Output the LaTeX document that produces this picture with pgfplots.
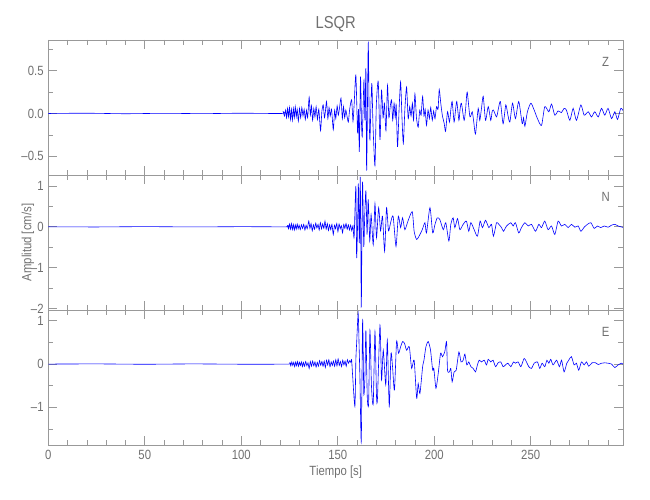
\documentclass[border=0pt]{standalone}
\usepackage{fontspec}
\setmainfont{Liberation Sans}[FakeStretch=0.85]
\usepackage{pgfplots}
\pgfplotsset{compat=1.18}
\definecolor{axisgray}{HTML}{999999}
\definecolor{textgray}{HTML}{707070}

% traces (cm/s)
\pgfplotstableread{
t v
0 0
20 0.003
40 -0.003
60 0.002
80 -0.002
100 0.003
121 0
121.8 0.02
122.4 -0.03
123.0 0.04
123.5 -0.05
124.0 0.06
124.5 -0.04
125.0 0.07
125.5 -0.07
126.0 0.05
126.5 -0.08
127.0 0.06
127.5 -0.05
128.0 0.08
128.5 -0.04
129.0 0.05
129.6 -0.09
130.2 0.06
130.8 -0.05
131.4 0.07
132.0 -0.03
132.6 0.05
133.2 -0.07
133.8 0.04
134.4 -0.05
135.2 0.19
135.8 -0.02
136.4 0.09
137.0 -0.08
137.6 0.06
138.2 -0.04
138.8 0.08
139.5 -0.07
140.2 0.05
141.1 -0.20
141.8 0.03
142.5 0.10
143.1 -0.05
143.6 0.02
144.2 0.14
144.9 -0.06
145.5 0.07
146.1 -0.03
146.8 0.05
147.7 -0.19
148.4 0.04
149.0 -0.06
149.7 0.09
150.3 -0.02
150.9 0.06
151.7 0.18
152.4 -0.06
153.0 0.08
153.6 -0.05
154.2 0.04
154.8 -0.03
155.5 -0.10
156.2 0.05
157.2 0.16
157.9 -0.09
158.5 0.10
159.4 0.45
160.3 -0.23
160.8 0.05
161.2 -0.45
161.8 0.43
162.3 -0.10
162.7 -0.27
163.2 0.10
163.6 0.39
164.1 -0.08
164.6 0.53
165.0 -0.67
165.8 0.82
166.3 -0.05
166.7 -0.31
167.2 0.10
167.7 0.35
168.3 -0.15
169.3 -0.61
170.0 0.10
171.0 0.37
171.9 -0.31
172.7 0.27
173.5 -0.05
174.2 0.12
175.0 -0.20
175.8 0.33
176.5 -0.05
177.2 0.08
177.9 0.16
178.5 -0.08
179.2 0.12
179.8 -0.05
180.3 0.10
181.0 -0.39
181.8 0.05
182.6 0.37
183.3 -0.05
184.0 -0.35
184.8 0.05
185.7 0.31
186.5 -0.06
187.3 0.08
188.0 -0.03
188.7 0.12
189.3 -0.08
190.0 0.23
190.8 -0.05
191.7 -0.16
192.5 0.04
193.2 -0.02
194.0 0.20
194.7 -0.03
195.3 0.05
196.0 -0.14
196.8 0.04
197.5 -0.06
198.2 0.07
199.0 -0.08
199.7 0.03
200.4 -0.06
201.2 0.08
202.0 0.05
202.6 0.28
203.4 0.12
204.2 -0.02
205.2 -0.12
205.9 -0.21
206.9 0.02
207.9 -0.10
208.6 0.04
209.3 0.14
210.3 -0.10
211.0 0.03
211.7 0.14
212.8 -0.08
213.4 0.05
214.1 0.12
215.5 -0.08
216.3 0.06
217.1 0.25
218.5 -0.04
219.7 0.02
220.5 -0.10
221.4 -0.24
222.8 0.06
223.6 -0.08
224.5 0.06
225.4 0.20
226.6 -0.08
228.0 0.08
229.3 -0.08
230.0 0.02
230.7 0.04
232.3 -0.04
233.3 0.06
234.3 0.14
235.7 -0.12
237.1 0.10
238.2 -0.02
239.2 -0.10
240.6 0.12
242.1 -0.06
243.8 0.14
245.6 -0.12
246.3 -0.05
247.0 -0.15
248.3 0.02
250.1 0.12
251.8 0.04
253.5 -0.06
255.6 -0.14
257.3 0.08
259.4 0.02
260.8 0.11
262.5 -0.02
264.2 0.03
265.9 0.01
267.3 0.06
268.5 0.04
270.3 -0.08
272.0 0.06
273.7 -0.08
276.0 0.10
277.7 -0.02
279.8 0.02
281.5 -0.04
283.2 0.02
285.0 -0.04
286.7 0.06
288.4 -0.02
290.1 0.06
291.9 -0.06
293.6 0.02
295.0 -0.07
296.7 0.06
298.2 0.02
}\traceZ

\pgfplotstableread{
t v
0 0
25 -0.004
50 0.004
75 -0.003
100 0.003
123.5 0
124.0 0.03
124.5 -0.05
125.0 0.07
125.5 -0.06
126.0 0.08
126.5 -0.07
127.0 0.06
127.5 -0.08
128.0 0.05
128.5 -0.06
129.0 0.07
129.5 -0.05
130.0 0.04
130.6 -0.07
131.2 0.05
131.8 -0.04
132.4 0.06
133.0 -0.08
133.6 0.04
134.2 -0.05
135.0 0.14
135.6 -0.04
136.2 0.08
136.8 -0.10
137.4 0.05
138.0 -0.06
138.6 0.09
139.2 -0.03
139.8 0.06
140.4 -0.08
141.0 0.10
141.6 -0.05
142.2 0.07
142.8 -0.04
143.4 0.14
144.0 -0.06
144.6 0.08
145.2 -0.09
145.8 0.05
146.4 -0.07
147.0 0.06
147.7 -0.19
148.3 0.04
148.9 -0.05
149.5 0.08
150.1 -0.12
150.7 0.07
151.3 -0.05
151.9 0.03
152.5 -0.15
153.1 0.06
153.7 -0.04
154.3 0.08
154.9 -0.06
155.5 0.05
156.1 -0.08
156.7 0.04
157.3 -0.10
157.9 0.03
158.5 -0.25
159.4 1.00
159.8 -0.77
160.4 0.30
160.7 1.05
161.2 -0.40
161.7 1.21
162.2 -1.96
162.6 0.20
162.9 1.09
163.5 -0.48
164.0 0.30
164.6 0.88
165.2 -0.19
165.8 0.67
166.6 -0.35
167.3 0.30
168.4 -0.44
169.3 0.57
170.1 -0.27
171.2 0.47
172.2 -0.10
173.2 0.26
174.3 -0.60
175.3 0.47
176.3 -0.10
177.4 0.10
178.7 0.26
180.2 -0.48
181.4 0.26
182.6 -0.02
183.6 0.22
184.8 -0.07
186.4 0.14
188.6 0.37
189.6 -0.11
190.9 -0.31
192.6 -0.19
193.8 -0.07
195.2 0.10
196.0 -0.15
197.8 0.47
199.2 -0.15
200.4 0.06
201.6 0.22
202.9 0.18
204.7 -0.07
206.0 0.10
207.6 -0.35
208.6 0.06
209.8 0.22
210.7 -0.02
212.1 0.20
213.3 -0.07
215.0 0.06
216.7 0.14
217.9 -0.11
219.0 0.10
220.7 -0.07
222.4 -0.23
223.8 0.14
225.0 -0.02
226.6 0.16
228.3 -0.02
229.7 0.06
230.7 -0.23
232.3 0.10
233.5 0.06
234.9 -0.02
235.9 -0.11
237.5 0.02
239.7 0.10
240.9 0.02
242.1 0.10
243.8 -0.15
245.2 -0.02
247.0 0.10
248.7 0.02
250.4 0.06
252.5 -0.11
254.2 0.06
255.6 -0.02
257.3 0.14
259.0 -0.07
260.8 0.02
262.5 -0.19
264.2 0.14
265.9 0.02
267.7 0.06
269.4 -0.02
271.1 0.06
272.9 -0.01
274.6 0.02
276.0 -0.11
277.7 -0.01
279.4 0.06
281.2 0.10
282.9 -0.04
284.6 0.02
286.3 -0.02
288.1 0.02
290.1 -0.01
291.9 0.04
293.6 0.06
295.3 0.02
298.2 -0.02
}\traceN

\pgfplotstableread{
t v
0 0
25 0.004
50 -0.004
75 0.004
100 -0.003
124.5 0
125.2 0.03
125.7 -0.04
126.2 0.05
126.7 -0.03
127.2 0.04
127.7 -0.06
128.2 0.05
128.7 -0.04
129.2 0.06
129.7 -0.05
130.2 0.04
130.7 -0.03
131.2 0.05
131.7 -0.06
132.2 0.04
132.8 -0.05
133.4 0.06
134.0 -0.04
134.6 0.03
135.2 -0.10
135.8 0.06
136.4 -0.05
137.0 0.07
137.6 -0.04
138.2 0.05
138.8 -0.07
139.4 0.04
140.0 -0.05
140.6 0.08
141.2 -0.03
141.8 0.06
142.4 -0.05
143.0 0.07
143.6 -0.08
144.2 0.09
144.8 -0.02
145.4 0.10
146.0 -0.06
146.6 0.05
147.2 -0.03
147.8 0.07
148.4 -0.05
149.0 0.10
149.6 -0.04
150.2 0.12
150.8 -0.03
151.4 0.06
152.0 -0.06
152.6 0.09
153.2 -0.02
153.8 0.07
154.4 -0.05
155.0 0.10
155.6 0.02
156.2 0.08
156.8 0.04
157.2 0.10
157.7 -0.25
158.9 -0.98
159.4 0.10
159.8 0.48
160.6 1.17
161.1 0.38
161.5 -0.30
162.2 -1.79
162.9 1.02
163.5 -0.68
164.1 -0.29
164.6 0.78
165.3 -0.75
166.0 -0.91
166.7 0.78
167.5 -0.52
168.4 -0.91
169.3 0.75
170.1 -0.75
170.6 -0.79
171.9 0.90
172.7 -0.37
173.6 0.32
174.9 -0.48
175.7 0.55
176.7 -0.98
177.6 0.25
178.4 -0.06
179.4 -0.60
180.5 0.52
181.5 0.25
182.6 0.40
183.6 0.52
184.6 0.48
185.7 0.32
187.1 0.40
188.3 -0.10
189.6 0.09
190.9 -0.79
191.7 -0.45
192.6 -0.68
194.0 -0.06
194.7 0.09
195.7 0.40
196.9 0.52
198.1 0.32
199.2 -0.14
199.8 -0.10
200.9 -0.56
202.1 -0.21
203.3 0.25
204.3 0.17
205.5 0.29
206.4 0.52
206.9 -0.14
207.9 -0.18
208.6 -0.10
209.3 -0.41
210.3 -0.18
211.4 -0.14
212.8 0.28
213.9 0.05
215.0 0.09
215.9 0.23
216.9 -0.02
217.9 0.05
219.0 -0.06
220.2 -0.10
221.4 -0.18
222.4 -0.02
223.3 0.09
224.5 0.05
225.9 0.09
227.1 -0.02
228.0 0.11
229.3 0.05
230.5 0.09
231.8 -0.06
233.1 0.03
234.5 0.05
235.7 -0.06
236.9 -0.02
238.2 0.02
239.7 -0.06
241.1 0.05
242.1 0.02
243.5 0.05
244.9 -0.06
246.6 0.13
247.8 0.05
249.0 -0.06
250.4 -0.10
251.8 0.02
253.5 0.05
254.7 -0.10
255.9 0.02
257.3 -0.06
258.4 0.09
259.4 0.02
260.4 0.11
261.6 -0.02
263.4 0.09
264.9 -0.06
266.0 0.09
267.3 -0.18
268.7 0.02
269.7 0.09
271.1 0.17
272.5 -0.02
273.7 0.02
274.9 -0.14
276.3 0.05
277.7 -0.02
278.9 0.05
280.1 -0.05
281.8 0.03
283.6 0.03
285.0 -0.01
286.7 0.02
288.4 0.03
290.1 0.02
291.9 0.00
293.6 -0.08
295.3 -0.02
297.0 0.02
298.0 -0.01
}\traceE

\pgfplotsset{
  seis/.style={
    scale only axis, width=431pt, height=101.25pt, anchor=south west,
    xmin=0, xmax=297.8,
    axis line style={axisgray, line width=0.6pt},
    tick style={axisgray, line width=0.5pt},
    tick align=inside,
    major tick length=6.5pt, minor tick length=3.5pt,
    xtick={0,50,...,250}, minor xtick={10,20,...,290},
    xticklabels={},
    ticklabel style={textgray, font=\fontsize{10}{11}\selectfont},
  },
  trace/.style={blue, line width=0.45pt, no markers, smooth, tension=0.4},
}

\begin{document}
\begin{tikzpicture}
\path[use as bounding box] (0,0) rectangle (487.5pt,375pt);

\begin{axis}[seis, at={(36.2pt,243.75pt)},
    ymin=-0.72, ymax=0.86,
    ytick={-0.5,0,0.5}, yticklabels={--0.5,0.0,0.5},
    minor ytick={-0.25,0.25,0.75}]
  \addplot[trace] table[x=t,y=v] {\traceZ};
  \node[textgray, font=\fontsize{10}{11}\selectfont] at (rel axis cs:0.97,0.84) {Z};
\end{axis}

\begin{axis}[seis, at={(36.2pt,142.5pt)},
    ymin=-2.04, ymax=1.27,
    ytick={-2,-1,0,1}, yticklabels={--2,--1,0,1},
    minor ytick={-1.5,-0.5,0.5}]
  \addplot[trace] table[x=t,y=v] {\traceN};
  \node[textgray, font=\fontsize{10}{11}\selectfont] at (rel axis cs:0.97,0.84) {N};
\end{axis}

\begin{axis}[seis, at={(36.2pt,41.25pt)},
    ymin=-1.87, ymax=1.25,
    ytick={-1,0,1}, yticklabels={--1,0,1},
    minor ytick={-1.5,-0.5,0.5},
    xticklabels={0,50,100,150,200,250}]
  \addplot[trace] table[x=t,y=v] {\traceE};
  \node[textgray, font=\fontsize{10}{11}\selectfont] at (rel axis cs:0.97,0.84) {E};
\end{axis}

\node[textgray, font=\fontsize{13}{15}\selectfont] at (251.8pt,357.2pt) {LSQR};
\node[textgray, font=\fontsize{10}{11}\selectfont] at (251.8pt,21.2pt) {Tiempo [s]};
\node[textgray, font=\fontsize{10}{11}\selectfont, rotate=90] at (21pt,193.1pt) {Amplitud [cm/s]};
\end{tikzpicture}
\end{document}
